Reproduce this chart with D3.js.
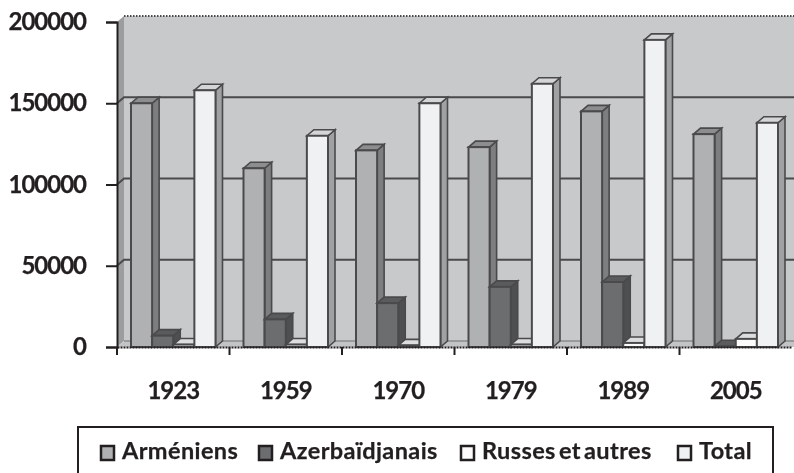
<!DOCTYPE html>
<html>
<head>
<meta charset="utf-8">
<script src="https://d3js.org/d3.v7.min.js"></script>
<style>
html, body { margin: 0; padding: 0; background: #fff; }
svg { display: block; filter: blur(0.7px); }
text { font-family: Lato, "Open Sans", sans-serif; font-weight: 700; fill: #231f20; stroke: #231f20; stroke-width: 0.25px; }
</style>
</head>
<body>
<div id="chart"></div>
<script>
// values
var years = ["1923", "1959", "1970", "1979", "1989", "2005"];
var seriesNames = ["Arméniens", "Azerbaïdjanais", "Russes et autres", "Total"];
var armeniens = [150000, 110000, 121000, 123000, 145000, 131000];
var azerbaidjanais = [7000, 17000, 27000, 37000, 40000, 500];
var russes = [1500, 1500, 1000, 1500, 2500, 5000];
var total = [158000, 130000, 150000, 162000, 189000, 138000];
var yTicks = [0, 50000, 100000, 150000, 200000];

var allSeries = [armeniens, azerbaidjanais, russes, total];

// front, side and top colour of each series
var colours = [
	{front: "#b0b1b3", side: "#7d7e80", top: "#8c8d8f"},
	{front: "#6c6d6f", side: "#4e4f51", top: "#5a5b5d"},
	{front: "#fbfbfb", side: "#c6c7c9", top: "#dcdddf"},
	{front: "#f0f1f3", side: "#a0a1a3", top: "#d4d5d7"}
];

var width = 794, height = 473;
var plot = {left: 117, right: 792, top: 22, bottom: 347};
var depthX = 7, depthY = 6;
var line = "#4a4a4c";

var svg = d3.select("#chart").append("svg")
	.attr("width", width)
	.attr("height", height);

var x = d3.scaleBand().domain(years).range([plot.left, plot.right]);
var y = d3.scaleLinear().domain([0, 200000]).range([plot.bottom, plot.top]);

// bars inside one category, the gap on each side is 2/3 of a bar
var xBar = d3.scaleBand()
	.domain(d3.range(seriesNames.length))
	.range([14, x.bandwidth() - 14]);

function poly(points) {
	return points.map(function(p) { return p.join(","); }).join(" ");
}

// side wall, back wall and floor
svg.append("polygon")
	.attr("points", poly([[plot.left, plot.top], [plot.left + depthX, plot.top - depthY],
		[plot.left + depthX, plot.bottom - depthY], [plot.left, plot.bottom]]))
	.attr("fill", "#9c9d9f");
svg.append("rect")
	.attr("x", plot.left + depthX)
	.attr("y", plot.top - depthY)
	.attr("width", width - plot.left)
	.attr("height", plot.bottom - plot.top)
	.attr("fill", "#c8c9cb");
svg.append("polygon")
	.attr("points", poly([[plot.left, plot.bottom], [plot.left + depthX, plot.bottom - depthY],
		[width, plot.bottom - depthY], [width, plot.bottom]]))
	.attr("fill", "#c3c4c6");

// gridlines on the back wall
svg.selectAll(".grid").data(yTicks.slice(1, 4)).enter().append("polyline")
	.attr("class", "grid")
	.attr("points", function(d) {
		return poly([[plot.left, y(d)], [plot.left + depthX, y(d) - depthY], [width, y(d) - depthY]]);
	})
	.attr("fill", "none")
	.attr("stroke", line)
	.attr("stroke-width", 2);

// dotted top edge and floor edge
svg.append("line")
	.attr("x1", plot.left + depthX).attr("x2", width)
	.attr("y1", plot.top - depthY).attr("y2", plot.top - depthY)
	.attr("stroke", line).attr("stroke-width", 2).attr("stroke-dasharray", "1.5 1.5");
svg.append("line")
	.attr("x1", plot.left + depthX).attr("x2", width)
	.attr("y1", plot.bottom - depthY).attr("y2", plot.bottom - depthY)
	.attr("stroke", "#8a8b8d").attr("stroke-width", 1.5);

// bars, each one a front, a side and a top face
var groups = svg.selectAll(".year").data(years).enter().append("g")
	.attr("class", "year")
	.attr("transform", function(d) { return "translate(" + x(d) + ",0)"; });

var bars = groups.selectAll(".bar")
	.data(function(d, i) {
		return allSeries.map(function(values, s) { return {series: s, value: values[i]}; });
	})
	.enter().append("g")
	.attr("class", "bar");

bars.append("polygon")
	.attr("points", function(d) {
		var r = xBar(d.series) + xBar.bandwidth(), t = y(d.value);
		return poly([[r, t], [r + depthX, t - depthY], [r + depthX, plot.bottom - depthY], [r, plot.bottom]]);
	})
	.attr("fill", function(d) { return colours[d.series].side; })
	.attr("stroke", line).attr("stroke-width", 1.6);

bars.append("polygon")
	.attr("points", function(d) {
		var l = xBar(d.series), r = l + xBar.bandwidth(), t = y(d.value);
		return poly([[l, t], [l + depthX, t - depthY], [r + depthX, t - depthY], [r, t]]);
	})
	.attr("fill", function(d) { return colours[d.series].top; })
	.attr("stroke", line).attr("stroke-width", 1.6);

bars.append("rect")
	.attr("x", function(d) { return xBar(d.series); })
	.attr("y", function(d) { return y(d.value); })
	.attr("width", xBar.bandwidth())
	.attr("height", function(d) { return plot.bottom - y(d.value); })
	.attr("fill", function(d) { return colours[d.series].front; })
	.attr("stroke", line).attr("stroke-width", 2);

// y axis
var yAxis = svg.append("g")
	.attr("transform", "translate(" + plot.left + ",0)")
	.call(d3.axisLeft(y).tickValues(yTicks).tickFormat(d3.format("d")).tickSize(11).tickPadding(20));

// x axis, ticks on the category edges and labels in the middle
var xAxis = svg.append("g")
	.attr("transform", "translate(0," + plot.bottom + ")")
	.call(d3.axisBottom(x).tickSize(0).tickPadding(35));

xAxis.selectAll(".edge").data(years).enter().append("line")
	.attr("class", "edge")
	.attr("x1", function(d) { return x(d); })
	.attr("x2", function(d) { return x(d); })
	.attr("y2", 8)
	.attr("stroke", "#231f20").attr("stroke-width", 2);

xAxis.select(".domain").attr("stroke", "#231f20").attr("stroke-width", 2).attr("stroke-dasharray", "2 1");
yAxis.select(".domain").attr("stroke", "#231f20").attr("stroke-width", 2);
yAxis.selectAll(".tick line").attr("stroke", "#231f20").attr("stroke-width", 2);

svg.selectAll(".tick text")
	.style("font-size", "24px")
	.style("letter-spacing", "-1px");

// legend box runs off the bottom of the picture
svg.append("rect")
	.attr("x", 78).attr("y", 427)
	.attr("width", 695).attr("height", 60)
	.attr("fill", "none")
	.attr("stroke", "#231f20").attr("stroke-width", 2);

var legendSwatchX = [101, 259, 461, 678];

var legend = svg.selectAll(".legend").data(seriesNames).enter().append("g")
	.attr("class", "legend")
	.attr("transform", function(d, i) { return "translate(" + legendSwatchX[i] + ",453)"; });

legend.append("rect")
	.attr("x", 0).attr("y", -7)
	.attr("width", 13).attr("height", 14)
	.attr("fill", function(d, i) { return colours[i].front; })
	.attr("stroke", "#231f20").attr("stroke-width", 2.5);

legend.append("text")
	.attr("x", 21)
	.attr("y", 6)
	.style("font-size", "23.5px")
	.style("letter-spacing", "0.4px")
	.style("word-spacing", "-3px")
	.text(function(d) { return d; });
</script>
</body>
</html>
